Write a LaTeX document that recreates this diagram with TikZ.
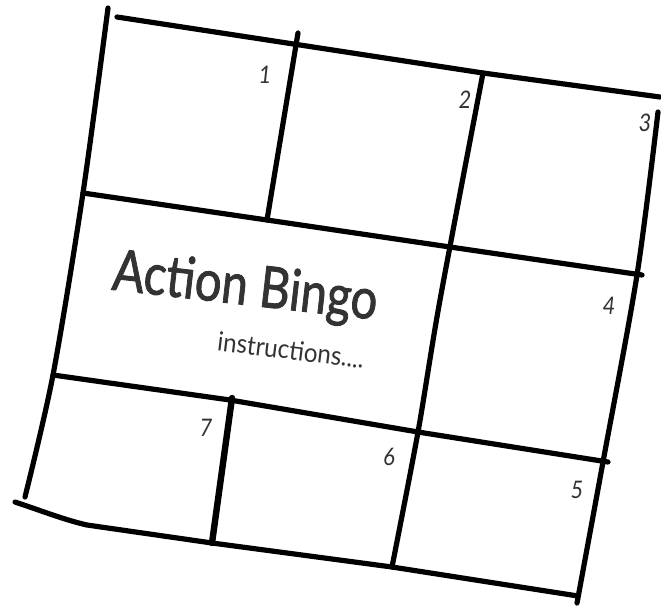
\documentclass[tikz,border=0pt]{standalone}
\usepackage{fontspec}
\setmainfont{Lato}
\newfontfamily\handfont[FakeBold=1.6]{Lato}
\definecolor{ink}{HTML}{333333}
\begin{document}
\begin{tikzpicture}[x=1pt,y=-1pt]
\tikzset{
  gridline/.style={line width=5.2pt, line cap=round, line join=round, black},
  numlabel/.style={text=ink, font=\fontsize{22}{22}\selectfont\itshape, inner sep=0pt, yscale=1.1},
}
\useasboundingbox[fill=white] (0,0) rectangle (661,605);
% coordinates
\coordinate (L0) at (108,8);
\coordinate (L1) at (83,193);
\coordinate (L2) at (53,375);
\coordinate (L3) at (25,497);
\coordinate (T0) at (117,17);
\coordinate (T1) at (483,73);
\coordinate (T2) at (660,97);
\coordinate (V0) at (298,33);
\coordinate (V1) at (267,220);
\coordinate (H1) at (450,247);
\coordinate (H2) at (642,275);
\coordinate (W1) at (440,300);
\coordinate (W2) at (418,432);
\coordinate (W3) at (392,567);
\coordinate (R0) at (658,112);
\coordinate (R1) at (637,275);
\coordinate (R2) at (603,462);
\coordinate (R3) at (577,603);
\coordinate (G1) at (230,400);
\coordinate (G2) at (608,462);
\coordinate (S0) at (232,398);
\coordinate (S1) at (212,543);
\coordinate (B0) at (15,502);
\coordinate (B1) at (87,525);
\coordinate (B2) at (578,596);
% lines
\draw[gridline] plot[smooth] coordinates {(L0) (L1) (L2) (L3)};
\draw[gridline] (T0) -- (T1) -- (T2);
\draw[gridline] (V0) -- (V1);
\draw[gridline] (L1) -- (V1) -- (H1) -- (H2);
\draw[gridline] plot[smooth] coordinates {(T1) (W1) (W2) (W3)};
\draw[gridline] plot[smooth] coordinates {(R0) (R1) (R2) (R3)};
\draw[gridline] (L2) -- (G1) -- (W2) -- (G2);
\draw[gridline, line width=6.4pt] (S0) -- (S1);
\draw[gridline] (B0) .. controls (45,512) and (65,520) .. (B1) -- (S1) -- (W3) -- (B2);
% texts
\node[text=ink, font=\fontsize{44}{44}\selectfont\handfont, rotate=-6.5, yscale=1.3, xscale=1.07, inner sep=0pt] (title) at (245,289) {Action Bingo};
\node[text=ink, font=\fontsize{23}{23}\selectfont, rotate=-7, yscale=1.15, xscale=1.05, inner sep=0pt] (instr) at (291,350) {instructions....};
\node[numlabel] (n1) at (265,75) {1};
\node[numlabel] (n2) at (465,100) {2};
\node[numlabel] (n3) at (645,123) {3};
\node[numlabel] (n4) at (609,306) {4};
\node[numlabel] (n5) at (577,490) {5};
\node[numlabel] (n6) at (389,457) {6};
\node[numlabel] (n7) at (206,428) {7};
\end{tikzpicture}
\end{document}
